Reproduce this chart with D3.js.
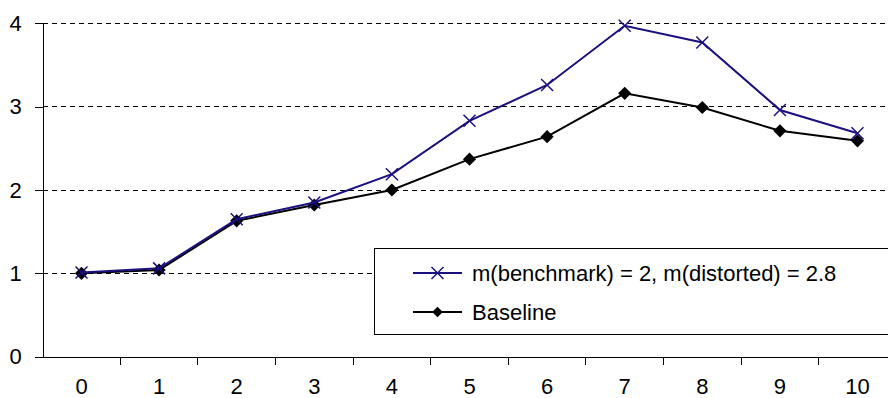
<!DOCTYPE html>
<html>
<head>
<meta charset="utf-8">
<script src="https://cdn.jsdelivr.net/npm/d3@7"></script>
<style>
  body { margin: 0; background: #fff; overflow: hidden; }
  svg { display: block; font-family: Arial, "Liberation Sans", sans-serif; }
</style>
</head>
<body>
<div id="chart"></div>
<script>
// chart data
var categories = ["0", "1", "2", "3", "4", "5", "6", "7", "8", "9", "10"];
var distorted = [1.01, 1.06, 1.65, 1.85, 2.19, 2.83, 3.26, 3.97, 3.77, 2.96, 2.68];
var baseline = [1.00, 1.04, 1.63, 1.82, 2.00, 2.37, 2.64, 3.16, 2.99, 2.71, 2.59];
var yTicks = [0, 1, 2, 3, 4];
var legendLabels = ["m(benchmark) = 2, m(distorted) = 2.8", "Baseline"];

var W = 888, H = 398;
var plotLeft = 42.7, plotRight = 896.3, plotTop = 23.3, plotBottom = 356.7;
var fontSize = "22px";

var svg = d3.select("#chart")
  .append("svg")
    .attr("width", W)
    .attr("height", H);

var x = d3.scaleBand()
  .domain(categories)
  .range([plotLeft, plotRight]);

var y = d3.scaleLinear()
  .domain([0, 4])
  .range([plotBottom, plotTop]);

// dashed gridlines
svg.append("g")
  .selectAll("line")
  .data(yTicks.filter(function(d) { return d > 0; }))
  .enter()
  .append("line")
    .attr("x1", plotLeft)
    .attr("x2", plotRight)
    .attr("y1", function(d) { return y(d); })
    .attr("y2", function(d) { return y(d); })
    .attr("stroke", "#000")
    .attr("stroke-width", 1)
    .attr("stroke-dasharray", "5,4")
    .attr("shape-rendering", "crispEdges");

// y-axis
var yAxis = svg.append("g")
  .attr("transform", "translate(" + plotLeft + ",0)")
  .call(d3.axisLeft(y).tickValues(yTicks).tickSize(8).tickPadding(13).tickFormat(d3.format("d")));
yAxis.select(".domain").attr("stroke", "#000").attr("shape-rendering", "crispEdges");
yAxis.selectAll(".tick line").attr("stroke", "#000").attr("shape-rendering", "crispEdges");
yAxis.selectAll("text")
  .attr("fill", "#000")
  .style("font-size", fontSize)
  .style("font-family", "Arial, 'Liberation Sans', sans-serif");

// x-axis (labels centred in bands, ticks on band boundaries)
var xAxis = svg.append("g")
  .attr("transform", "translate(0," + plotBottom + ")")
  .call(d3.axisBottom(x).tickSize(0).tickPadding(22).tickSizeOuter(0));
xAxis.select(".domain").attr("stroke", "#000").attr("shape-rendering", "crispEdges");
xAxis.selectAll("text")
  .attr("fill", "#000")
  .style("font-size", fontSize)
  .style("font-family", "Arial, 'Liberation Sans', sans-serif");

svg.append("g")
  .selectAll("line")
  .data(categories)
  .enter()
  .append("line")
    .attr("x1", function(d) { return x(d) + x.bandwidth(); })
    .attr("x2", function(d) { return x(d) + x.bandwidth(); })
    .attr("y1", plotBottom)
    .attr("y2", plotBottom + 8)
    .attr("stroke", "#000")
    .attr("shape-rendering", "crispEdges");

var cx = function(d, i) { return x(categories[i]) + x.bandwidth() / 2; };

var line = d3.line()
  .x(cx)
  .y(function(d) { return y(d); });

var navy = "#1a1080";

// baseline series
svg.append("path")
  .datum(baseline)
  .attr("fill", "none")
  .attr("stroke", "#000")
  .attr("stroke-width", 2)
  .attr("d", line);

svg.append("g")
  .selectAll("path")
  .data(baseline)
  .enter()
  .append("path")
    .attr("transform", function(d, i) { return "translate(" + cx(d, i) + "," + y(d) + ")"; })
    .attr("d", d3.symbol(d3.symbolDiamond2, 110))
    .attr("fill", "#000");

// distorted series
svg.append("path")
  .datum(distorted)
  .attr("fill", "none")
  .attr("stroke", navy)
  .attr("stroke-width", 2)
  .attr("d", line);

svg.append("g")
  .selectAll("path")
  .data(distorted)
  .enter()
  .append("path")
    .attr("transform", function(d, i) { return "translate(" + cx(d, i) + "," + y(d) + ")"; })
    .attr("d", "M-6,-6L6,6M-6,6L6,-6")
    .attr("fill", "none")
    .attr("stroke", navy)
    .attr("stroke-width", 1.5);

// legend
var legend = svg.append("g");
legend.append("rect")
  .attr("x", 374.5)
  .attr("y", 248.5)
  .attr("width", 540)
  .attr("height", 86)
  .attr("fill", "#fff")
  .attr("stroke", "#000");

var rowsY = [273, 312];
var legendRow = legend.selectAll(".row")
  .data(legendLabels)
  .enter()
  .append("g")
    .attr("transform", function(d, i) { return "translate(0," + rowsY[i] + ")"; });

legendRow.append("line")
  .attr("x1", 413)
  .attr("x2", 462)
  .attr("stroke", function(d, i) { return i === 0 ? navy : "#000"; })
  .attr("stroke-width", 2);

legendRow.filter(function(d, i) { return i === 0; })
  .append("path")
    .attr("transform", "translate(437.5,0)")
    .attr("d", "M-6,-6L6,6M-6,6L6,-6")
    .attr("stroke", navy)
    .attr("stroke-width", 1.5);

legendRow.filter(function(d, i) { return i === 1; })
  .append("path")
    .attr("transform", "translate(437.5,0)")
    .attr("d", d3.symbol(d3.symbolDiamond2, 70))
    .attr("fill", "#000");

legendRow.append("text")
  .attr("x", 472)
  .attr("dy", "0.36em")
  .style("font-size", fontSize)
  .attr("fill", "#000")
  .text(function(d) { return d; });
</script>
</body>
</html>
